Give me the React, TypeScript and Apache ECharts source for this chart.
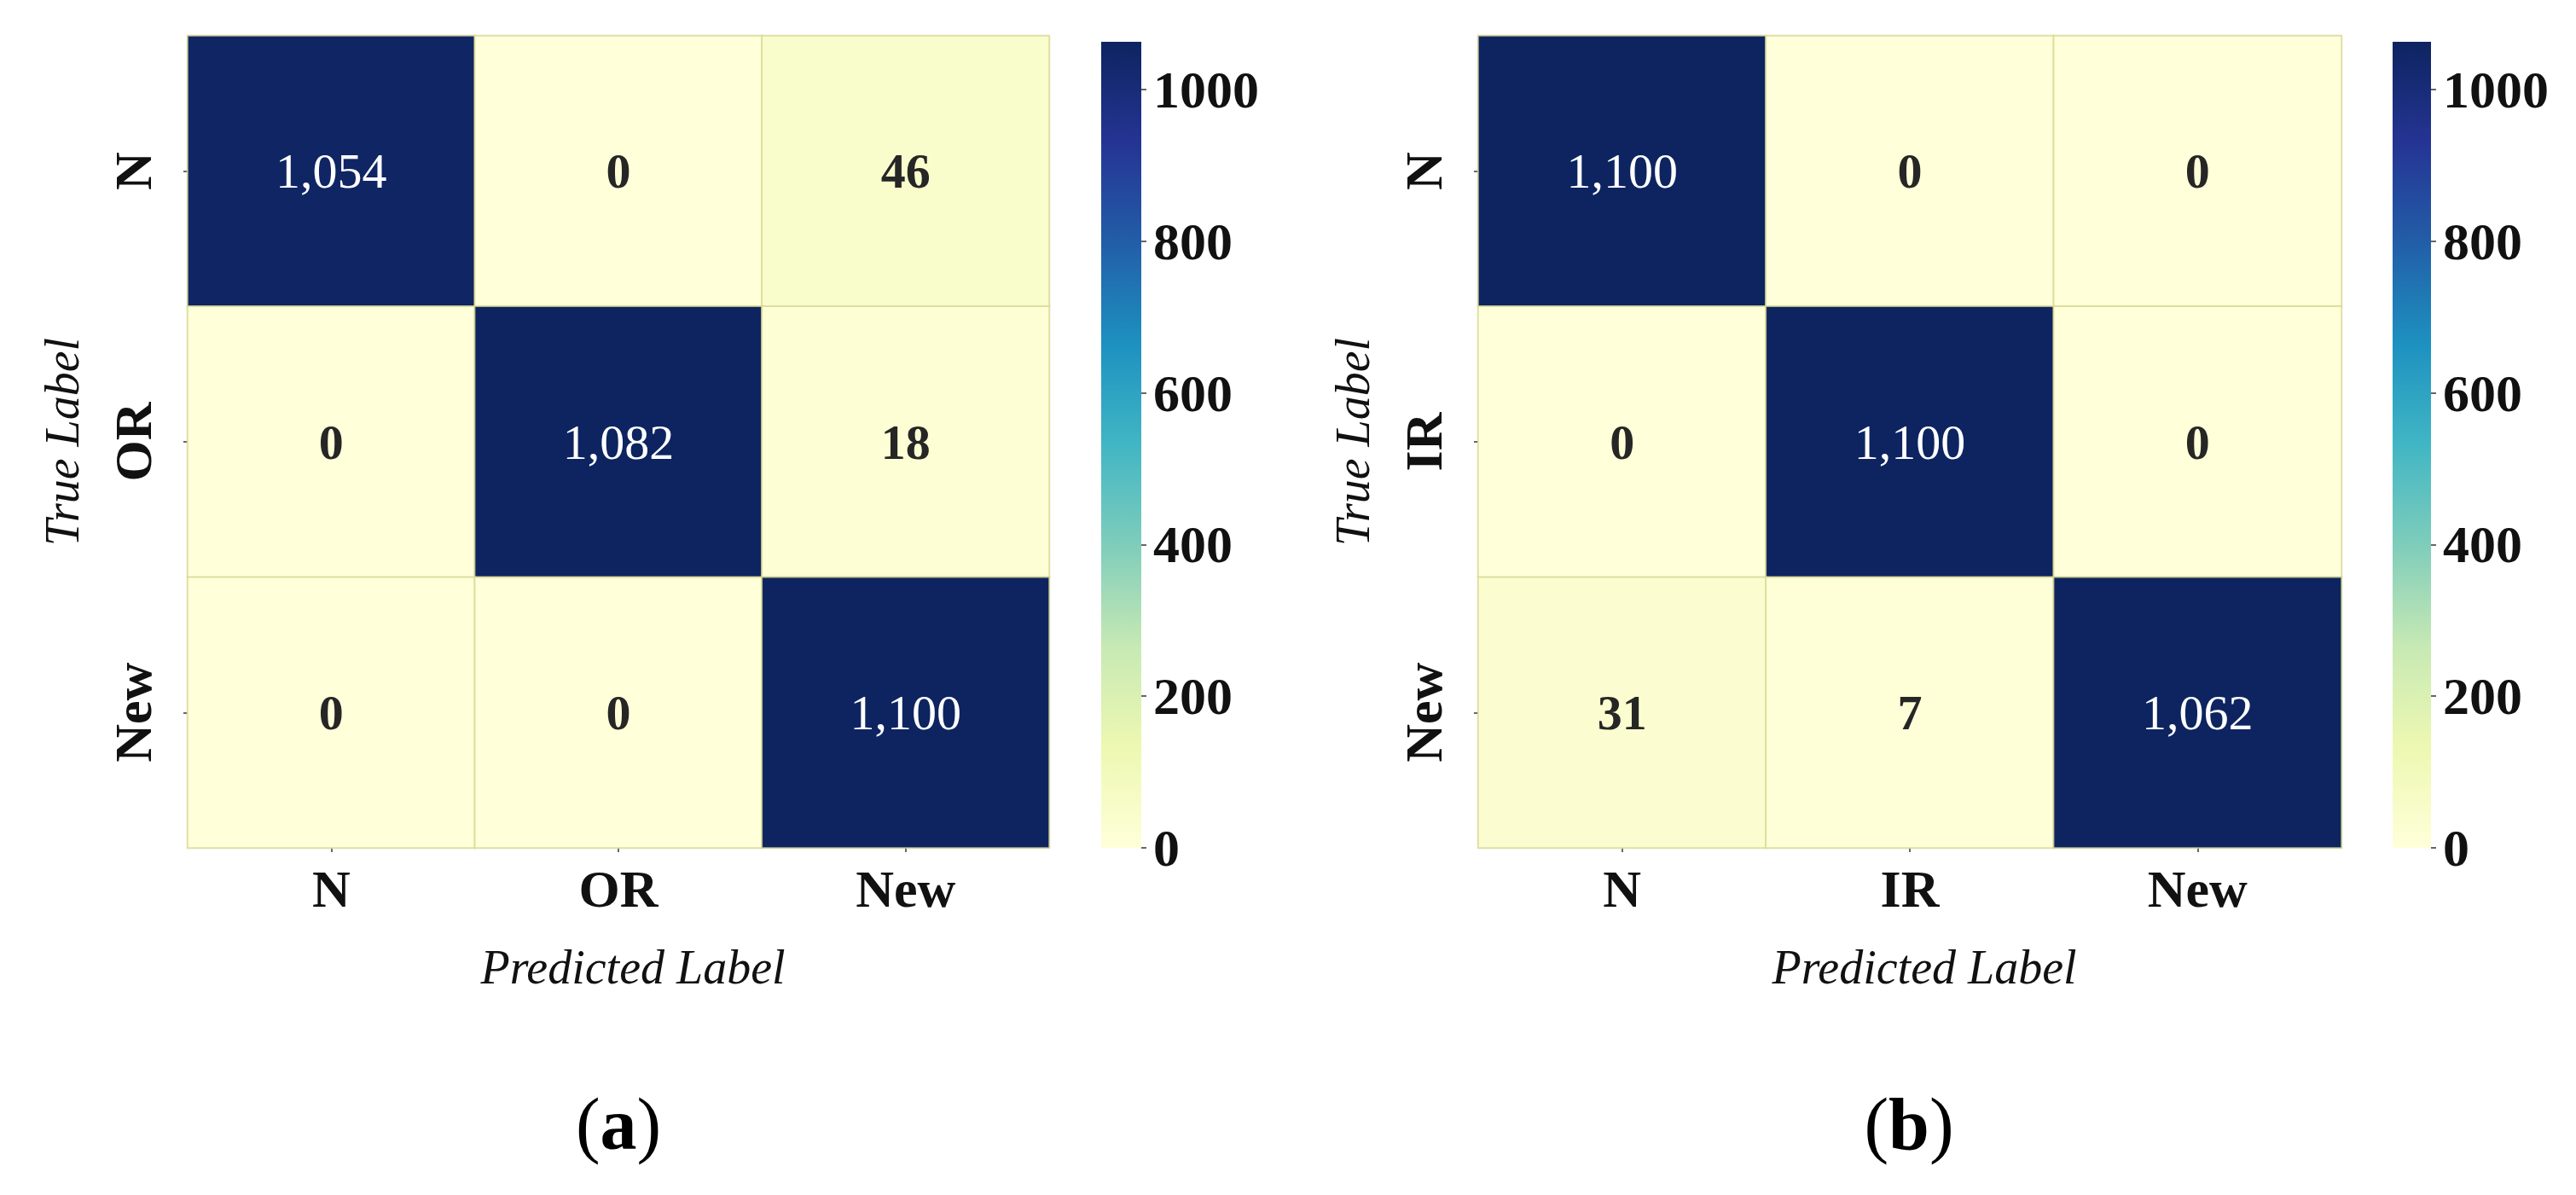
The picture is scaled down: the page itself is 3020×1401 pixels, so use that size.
import React, { useEffect, useRef } from "react";
import * as echarts from "echarts";

// ---- data ----
const predLabelsA = ["N", "OR", "New"];
const trueLabelsA = ["N", "OR", "New"];
const predLabelsB = ["N", "IR", "New"];
const trueLabelsB = ["N", "IR", "New"];
// rows = true label, columns = predicted label
const matrixA = [
  [1054, 0, 46],
  [0, 1082, 18],
  [0, 0, 1100],
];
const matrixB = [
  [1100, 0, 0],
  [0, 1100, 0],
  [31, 7, 1062],
];
const colorbarTicks = [0, 200, 400, 600, 800, 1000];
const colorbarMax = 1063;
const ylgnbu = ["#ffffd9", "#edf8b1", "#c7e9b4", "#7fcdbb", "#41b6c4", "#1d91c0", "#225ea8", "#253494", "#0d2460"];
const captions = ["a", "b"];

const FONT = '"Liberation Serif", "Times New Roman", serif';

function cells(matrix: number[][]) {
  const out: any[] = [];
  matrix.forEach((row, yi) =>
    row.forEach((v, xi) => {
      const dark = v > colorbarMax / 2;
      out.push({
        value: [xi, yi, v],
        label: {
          color: dark ? "#ffffff" : "#262626",
          fontWeight: dark ? "normal" : "bold",
        },
      });
    })
  );
  return out;
}

const tickStyle = { show: true, alignWithLabel: true, length: 5, lineStyle: { color: "#666", width: 2 } };
const catLabel = { fontSize: 62, fontWeight: "bold", fontFamily: FONT, color: "#111" };
const nameStyle = { fontSize: 56, fontStyle: "italic", fontFamily: FONT, color: "#111" };

function heatX(grid: number, data: string[]) {
  return {
    gridIndex: grid,
    type: "category",
    data,
    position: "bottom",
    axisLine: { show: false },
    axisTick: tickStyle,
    axisLabel: { ...catLabel, margin: 17 },
    splitLine: { show: false },
    name: "Predicted Label",
    nameLocation: "middle",
    nameGap: 112,
    nameTextStyle: { ...nameStyle, padding: [0, 0, 0, 34] },
  };
}
function heatY(grid: number, data: string[]) {
  return {
    gridIndex: grid,
    type: "category",
    data,
    inverse: true,
    axisLine: { show: false },
    axisTick: tickStyle,
    axisLabel: { ...catLabel, rotate: 90, margin: 33 },
    splitLine: { show: false },
    name: "True Label",
    nameLocation: "middle",
    nameRotate: 90,
    nameGap: 119,
    nameTextStyle: nameStyle,
  };
}
function cbX(grid: number) {
  return { gridIndex: grid, type: "category", data: [""], show: false };
}
function cbY(grid: number) {
  return {
    gridIndex: grid,
    type: "value",
    position: "right",
    min: 0,
    max: colorbarMax,
    interval: 200,
    axisLine: { show: false },
    axisTick: { show: true, length: 6, customValues: colorbarTicks, lineStyle: { color: "#666", width: 2 } },
    axisLabel: {
      customValues: colorbarTicks,
      formatter: (v: number) => String(v),
      margin: 14,
      fontSize: 62,
      fontWeight: "bold",
      fontFamily: FONT,
      color: "#111",
    },
    splitLine: { show: false },
  };
}

function gradient() {
  return new echarts.graphic.LinearGradient(
    0,
    1,
    0,
    0,
    ylgnbu.map((c, i) => ({ offset: i / (ylgnbu.length - 1), color: c }))
  );
}

function heatSeries(idx: number, matrix: number[][]) {
  return {
    type: "heatmap",
    xAxisIndex: idx,
    yAxisIndex: idx,
    data: cells(matrix),
    label: {
      show: true,
      fontSize: 58,
      fontFamily: FONT,
      formatter: (p: any) => Number(p.value[2]).toLocaleString("en-US"),
    },
    itemStyle: { borderColor: "rgba(215,215,150,0.8)", borderWidth: 2 },
    emphasis: { disabled: true },
    silent: true,
  };
}
function cbSeries(idx: number) {
  return {
    type: "bar",
    xAxisIndex: idx,
    yAxisIndex: idx,
    data: [colorbarMax],
    barWidth: "100%",
    itemStyle: { color: gradient() },
    silent: true,
  };
}

function caption(letter: string, x: number) {
  return {
    type: "text",
    x,
    y: 1318,
    style: {
      text: `{p|(}{b|${letter}}{p|)}`,
      align: "center",
      verticalAlign: "middle",
      rich: {
        p: { fontSize: 86, fontFamily: FONT, fill: "#000", color: "#000" },
        b: { fontSize: 86, fontWeight: "bold", fontFamily: FONT, fill: "#000", color: "#000" },
      },
    },
  };
}

export default function App() {
  const ref = useRef<HTMLDivElement>(null);
  useEffect(() => {
    document.body.style.margin = "0";
    if (!ref.current) return;
    const chart = echarts.init(ref.current, null, { renderer: "svg" });
    chart.setOption({
      animation: false,
      backgroundColor: "#ffffff",
      grid: [
        { left: 220, top: 42, width: 1010, height: 952 },
        { left: 1291, top: 49, width: 47, height: 945 },
        { left: 1733, top: 42, width: 1012, height: 952 },
        { left: 2805, top: 49, width: 45, height: 945 },
      ],
      xAxis: [heatX(0, predLabelsA), cbX(1), heatX(2, predLabelsB), cbX(3)],
      yAxis: [heatY(0, trueLabelsA), cbY(1), heatY(2, trueLabelsB), cbY(3)],
      visualMap: [
        {
          type: "continuous",
          show: false,
          seriesIndex: 0,
          dimension: 2,
          min: 0,
          max: colorbarMax,
          inRange: { color: ylgnbu },
          outOfRange: { color: ylgnbu[ylgnbu.length - 1] },
        },
        {
          type: "continuous",
          show: false,
          seriesIndex: 2,
          dimension: 2,
          min: 0,
          max: colorbarMax,
          inRange: { color: ylgnbu },
          outOfRange: { color: ylgnbu[ylgnbu.length - 1] },
        },
      ],
      series: [heatSeries(0, matrixA), cbSeries(1), heatSeries(2, matrixB), cbSeries(3)],
      graphic: [caption(captions[0], 725), caption(captions[1], 2238)],
    });
    return () => chart.dispose();
  }, []);
  return <div ref={ref} style={{ width: 3020, height: 1401, background: "#fff" }} />;
}
